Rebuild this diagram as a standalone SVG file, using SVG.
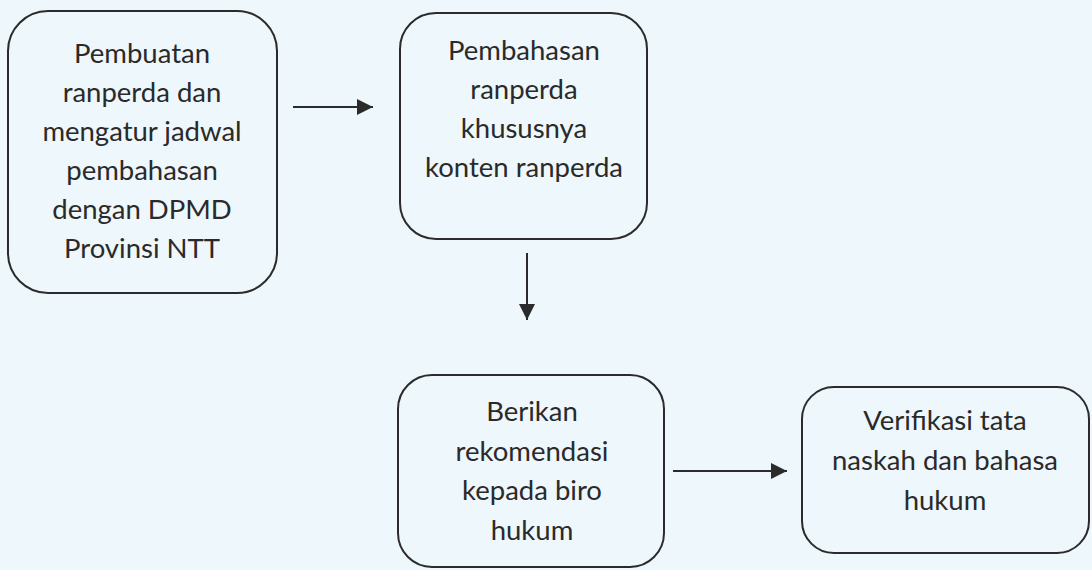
<svg xmlns="http://www.w3.org/2000/svg" width="1092" height="570" viewBox="0 0 1092 570">
  <style>
    .box { fill: #eef7fb; stroke: #2b2b2b; stroke-width: 2; }
    .lbl { font-family: Lato, "Open Sans", sans-serif; font-size: 27.5px; fill: #2a2a2a; text-anchor: middle; }
    .edge { stroke: #2b2b2b; stroke-width: 2; fill: none; marker-end: url(#arrow); }
  </style>
  <defs>
    <marker id="arrow" viewBox="0 0 10 10" refX="10" refY="5" markerWidth="16" markerHeight="16" markerUnits="userSpaceOnUse" orient="auto">
      <path d="M0,0 L10,5 L0,10 z" fill="#2b2b2b"/>
    </marker>
  </defs>

  <rect width="1092" height="570" fill="#eef7fb"/>

  <g id="connectors">
    <line class="edge" x1="293" y1="107" x2="373" y2="107"/>
    <line class="edge" x1="527" y1="253" x2="527" y2="320"/>
    <line class="edge" x1="673" y1="471" x2="787" y2="471"/>
  </g>

  <g id="node-pembuatan">
    <rect class="box" x="8" y="11" width="269" height="282" rx="40" ry="40"/>
    <text class="lbl" x="142" y="63">Pembuatan</text>
    <text class="lbl" x="142" y="102">ranperda dan</text>
    <text class="lbl" x="142" y="141">mengatur jadwal</text>
    <text class="lbl" x="142" y="180">pembahasan</text>
    <text class="lbl" x="142" y="219">dengan DPMD</text>
    <text class="lbl" x="142" y="258">Provinsi NTT</text>
  </g>

  <g id="node-pembahasan">
    <rect class="box" x="400" y="13" width="247" height="226" rx="36" ry="36"/>
    <text class="lbl" x="524" y="60">Pembahasan</text>
    <text class="lbl" x="524" y="99">ranperda</text>
    <text class="lbl" x="524" y="138">khususnya</text>
    <text class="lbl" x="524" y="177">konten ranperda</text>
  </g>

  <g id="node-rekomendasi">
    <rect class="box" x="398" y="375" width="266" height="192" rx="34" ry="34"/>
    <text class="lbl" x="532" y="421">Berikan</text>
    <text class="lbl" x="532" y="461">rekomendasi</text>
    <text class="lbl" x="532" y="500">kepada biro</text>
    <text class="lbl" x="532" y="540">hukum</text>
  </g>

  <g id="node-verifikasi">
    <rect class="box" x="802" y="387" width="287" height="166" rx="32" ry="32"/>
    <text class="lbl" x="945" y="430">Verifikasi tata</text>
    <text class="lbl" x="945" y="470">naskah dan bahasa</text>
    <text class="lbl" x="945" y="510">hukum</text>
  </g>
</svg>
